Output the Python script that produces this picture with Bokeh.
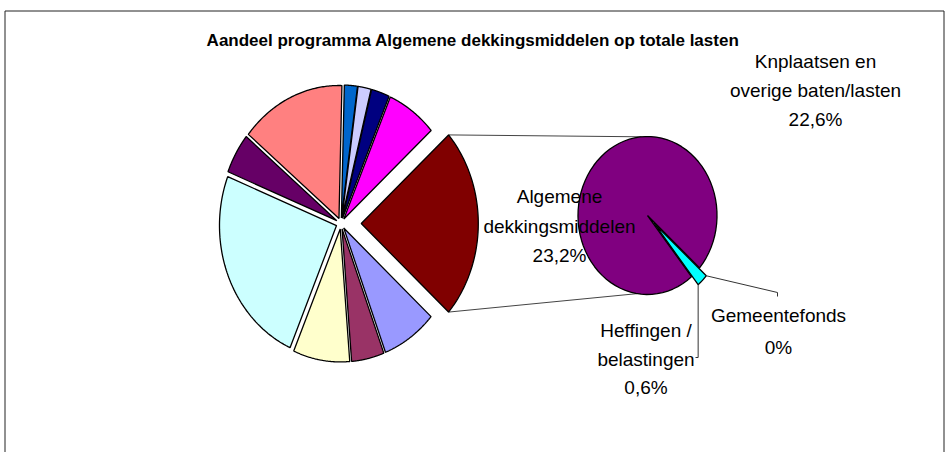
import numpy as np
from bokeh.plotting import figure
from bokeh.models import Range1d
from bokeh.core.properties import value
from bokeh.embed import file_html
from bokeh.resources import INLINE

# ---------------- data ----------------
title_text = "Aandeel programma Algemene dekkingsmiddelen op totale lasten"

main_categories = ["Programma 1", "Programma 2", "Programma 3", "Programma 4",
                   "Algemene dekkingsmiddelen", "Programma 5", "Programma 6",
                   "Programma 7", "Programma 8", "Programma 9", "Programma 10"]
main_values = [1.8, 1.8, 2.5, 6.9, 23.2, 7.6, 4.5, 7.8, 24.5, 4.9, 14.5]
main_colors = ["#0066CC", "#CCCCFF", "#000080", "#FF00FF", "#800000", "#9999FF",
               "#993366", "#FFFFCC", "#CCFFFF", "#660066", "#FF8080"]
split_index = 4
split_label = ["Algemene", "dekkingsmiddelen", "23,2%"]

sub_categories = ["Knplaatsen en overige baten/lasten", "Gemeentefonds", "Heffingen / belastingen"]
sub_values = [22.6, 0.0, 0.6]
sub_colors = ["#800080", "#000080", "#00FFFF"]
sub_labels = [["Knplaatsen en", "overige baten/lasten", "22,6%"],
              ["Gemeentefonds", "0%"],
              ["Heffingen /", "belastingen", "0,6%"]]

# ---------------- layout ----------------
W, H = 947, 452
OX, OY = 0, 0          # page offset of the figure (measured)


def px(x):
    return x - OX


def py(y):
    return y - OY


SX = 0.88              # horizontal squeeze of the pies
FONT = "Liberation Sans"

main_c = (px(340.5), py(223.0))
main_r = 133.0
small_explode = 5.5
split_explode = 23.0

sub_c = (px(647.0), py(215.0))
sub_r = 79.0
sub_start = 140.8
sub_explode = [0.0, 0.0, 11.0]


def wedge(c, r, a0, a1, explode, n=80):
    mid = np.radians((a0 + a1) / 2.0)
    tx = c[0] + explode * SX * np.sin(mid)
    ty = c[1] - explode * np.cos(mid)
    t = np.radians(np.linspace(a0, a1, n))
    xs = np.concatenate([[tx], tx + r * SX * np.sin(t), [tx]])
    ys = np.concatenate([[ty], ty - r * np.cos(t), [ty]])
    return list(xs), list(ys), (tx, ty)


def point(tip, r, a):
    a = np.radians(a)
    return tip[0] + r * SX * np.sin(a), tip[1] - r * np.cos(a)


p = figure(width=W, height=H, x_range=Range1d(0, W), y_range=Range1d(H, 0),
           output_backend="svg", toolbar_location=None, min_border=0)
p.axis.visible = False
p.grid.visible = False
p.outline_line_color = None
p.background_fill_color = "white"
p.border_fill_color = "white"

# chart border (bottom cut off like the reference)
p.line([px(4.5), px(4.5), px(943.5), px(943.5)], [H, py(10.5), py(10.5), H],
       line_color="#222222", line_width=1)

# ---------------- main pie ----------------
total = float(sum(main_values))
cum = np.concatenate([[0.0], np.cumsum(main_values)])
start0 = 90.0 - (cum[split_index] + main_values[split_index] / 2.0) / total * 360.0
mxs, mys = [], []
split_tip = None
split_angles = None
for i, v in enumerate(main_values):
    a0 = start0 + cum[i] / total * 360.0
    a1 = start0 + cum[i + 1] / total * 360.0
    ex = split_explode if i == split_index else small_explode
    xs, ys, tip = wedge(main_c, main_r, a0, a1, ex)
    mxs.append(xs)
    mys.append(ys)
    if i == split_index:
        split_tip, split_angles = tip, (a0, a1)

# connector lines between split slice and secondary pie
c_top = point(split_tip, main_r, split_angles[0])
c_bot = point(split_tip, main_r, split_angles[1])
e_top = point(sub_c, sub_r, 355.0)
e_bot = point(sub_c, sub_r, 188.5)
p.multi_line([[c_top[0], e_top[0]], [c_bot[0], e_bot[0]]],
             [[c_top[1], e_top[1]], [c_bot[1], e_bot[1]]],
             line_color="#444444", line_width=1)

p.patches(mxs, mys, fill_color=main_colors, line_color="black", line_width=1.3)

# ---------------- secondary pie ----------------
sub_total = float(sum(sub_values))
scum = np.concatenate([[0.0], np.cumsum(sub_values)])
sxs, sys_ = [], []
sub_geo = []
for i, v in enumerate(sub_values):
    a0 = sub_start + scum[i] / sub_total * 360.0
    a1 = sub_start + scum[i + 1] / sub_total * 360.0
    xs, ys, tip = wedge(sub_c, sub_r, a0, a1, sub_explode[i])
    sub_geo.append((tip, a0, a1))
    if v > 0:
        sxs.append(xs)
        sys_.append(ys)
p.patches(sxs, sys_, fill_color=[c for c, v in zip(sub_colors, sub_values) if v > 0],
          line_color="black", line_width=1.3)

# leader lines
tip_h, a0_h, a1_h = sub_geo[2]
g_start = point(tip_h, sub_r, a0_h)
h_start = point(tip_h, sub_r, a1_h)
p.line([g_start[0], px(777), px(777)], [g_start[1], py(292), py(296)],
       line_color="#333333", line_width=1)
p.line([h_start[0], h_start[0], px(695)], [h_start[1], py(357), py(357)],
       line_color="#333333", line_width=1)

# ---------------- texts ----------------
p.text([px(472.5)], [py(40)], text=[title_text], text_align="center", text_baseline="middle",
       text_font=value(FONT), text_font_size="17px", text_font_style="bold", text_color="black")

lab_x, lab_y, lab_t = [], [], []
for j, t in enumerate(split_label):
    lab_x.append(px(559)); lab_y.append(py(196 + 29.5 * j)); lab_t.append(t)
for j, t in enumerate(sub_labels[0]):
    lab_x.append(px(815)); lab_y.append(py(61 + 29 * j)); lab_t.append(t)
for j, t in enumerate(sub_labels[1]):
    lab_x.append(px(778)); lab_y.append(py(315 + 31.5 * j)); lab_t.append(t)
for j, t in enumerate(sub_labels[2]):
    lab_x.append(px(645.5)); lab_y.append(py(330 + 28.5 * j)); lab_t.append(t)
p.text(lab_x, lab_y, text=lab_t, text_align="center", text_baseline="middle",
       text_font=value(FONT), text_font_size="19px", text_color="black")

open("out.html", "w").write(file_html(p, INLINE))
